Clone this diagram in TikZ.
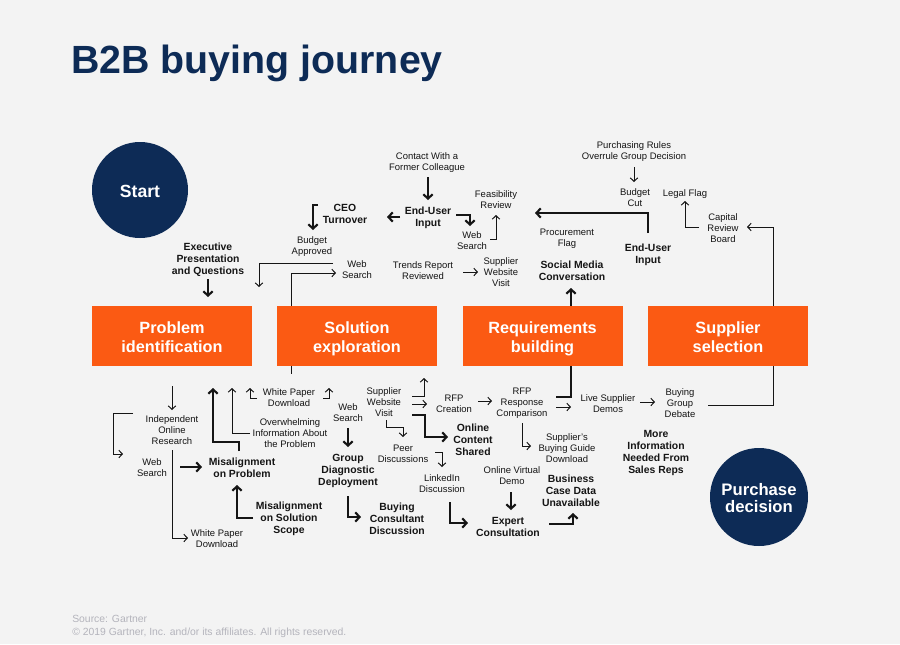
\documentclass[tikz,border=0pt]{standalone}
\usepackage{fontspec}
\setmainfont{Liberation Sans}
\usetikzlibrary{arrows.meta}
\definecolor{bgc}{HTML}{F3F3F3}
\definecolor{navy}{HTML}{0D2B56}
\definecolor{orng}{HTML}{FB5A13}
\definecolor{ink}{HTML}{151515}
\definecolor{foot}{HTML}{B4B4BC}
\begin{document}
\begin{tikzpicture}[x=0.75pt,y=-0.75pt,
 struts/.style={execute at begin node={\strut}, execute at end node={\strut}},
 sm/.style={align=center,inner sep=0pt,struts,yshift=-1.5pt,font=\fontsize{7.1}{8.3}\selectfont,text=ink},
 bd/.style={align=center,inner sep=0pt,struts,yshift=-1.9pt,font=\fontsize{7.8}{9}\selectfont\bfseries,text=ink},
 stage/.style={fill=orng,minimum width=120pt,minimum height=45pt,inner sep=0pt,align=center,text=white,font=\fontsize{12.2}{14.3}\selectfont\bfseries},
 stagetext/.style={inner sep=0pt,struts,align=center,text=white,font=\fontsize{12.2}{14.3}\selectfont\bfseries,yshift=-3pt},
 endpt/.style={circle,fill=navy,inner sep=0pt},
 endtext/.style={inner sep=0pt,struts,align=center,text=white,font=\fontsize{12.5}{13}\selectfont\bfseries,yshift=-2.6pt},
 tn/.style={draw=ink,line width=0.75pt},
 tk/.style={draw=ink,line width=1.6pt},
 tna/.style={tn,-{Straight Barb[length=2.6pt,width=5.6pt]}},
 tka/.style={tk,-{Straight Barb[length=3.2pt,width=7pt]}},
 footer/.style={anchor=base west,inner sep=0pt,text=foot,font=\fontsize{7.8}{9}\selectfont},
]
\fill[bgc] (0,0) rectangle (900,644);
\useasboundingbox (0,0) rectangle (900,644);

% title
\node[anchor=base west,inner sep=0pt,text=navy,font=\fontsize{29.5}{30}\selectfont\bfseries] (title) at (71,73) {B2B buying journey};

% start / end
\node[endpt,minimum size=72pt] (start) at (140,190) {};
\node[endtext,font=\fontsize{13.2}{14}\selectfont\bfseries] (startlbl) at (start) {Start};
\node[endpt,minimum size=73.5pt] (purchase) at (759,497) {};
\node[endtext] (purchaselbl) at (purchase) {Purchase\\decision};

% stages
\node[stage] (pi) at (172,336) {};
\node[stage] (se) at (357,336) {};
\node[stage] (rb) at (542.5,336) {};
\node[stage] (ss) at (728,336) {};
\node[stagetext] (pilbl) at (pi) {Problem\\identification};
\node[stagetext] (selbl) at (se) {Solution\\exploration};
\node[stagetext] (rblbl) at (rb) {Requirements\\building};
\node[stagetext] (sslbl) at (ss) {Supplier\\selection};

% upper labels
\node[sm] (contact) at (427,161) {Contact With a\\Former Colleague};
\node[bd] (eu1) at (428,215.5) {End-User\\Input};
\node[bd] (ceo) at (345,213) {CEO\\Turnover};
\node[sm] (budgeta) at (312,245.5) {Budget\\Approved};
\node[bd] (exec) at (208,257.5) {Executive\\Presentation\\and Questions};
\node[sm] (wsa) at (357,269) {Web\\Search};
\node[sm] (wsb) at (472,240.5) {Web\\Search};
\node[sm] (feas) at (496,199.5) {Feasibility\\Review};
\node[sm] (trends) at (423,270.5) {Trends Report\\Reviewed};
\node[sm] (swva) at (501,271.5) {Supplier\\Website\\Visit};
\node[sm] (proc) at (567,237) {Procurement\\Flag};
\node[bd] (smc) at (572,270) {Social Media\\Conversation};
\node[sm] (rules) at (634,150) {Purchasing Rules\\Overrule Group Decision};
\node[sm] (bcut) at (635,197.5) {Budget\\Cut};
\node[sm] (legal) at (685,192.5) {Legal Flag};
\node[sm] (capital) at (723,227.5) {Capital\\Review\\Board};
\node[bd] (eu2) at (648,252.5) {End-User\\Input};

% lower labels
\node[sm] (wpda) at (289,397.5) {White Paper\\Download};
\node[sm] (over) at (290,433) {Overwhelming\\Information About\\the Problem};
\node[sm] (ior) at (172,430) {Independent\\Online\\Research};
\node[sm] (wsc) at (152,467) {Web\\Search};
\node[bd] (mp) at (242,467) {Misalignment\\on Problem};
\node[sm] (wpdb) at (217,538.5) {White Paper\\Download};
\node[bd] (mss) at (289,517) {Misalignment\\on Solution\\Scope};
\node[sm] (wsd) at (348,412) {Web\\Search};
\node[bd] (gdd) at (348,469.5) {Group\\Diagnostic\\Deployment};
\node[bd] (bcons) at (397,518) {Buying\\Consultant\\Discussion};
\node[sm] (swvb) at (384,402) {Supplier\\Website\\Visit};
\node[sm] (rfpc) at (454,403) {RFP\\Creation};
\node[sm] (rfpr) at (522,401.5) {RFP\\Response\\Comparison};
\node[bd] (ocs) at (473,438.5) {Online\\Content\\Shared};
\node[sm] (peer) at (403,453) {Peer\\Discussions};
\node[sm] (li) at (442,483.5) {LinkedIn\\Discussion};
\node[sm] (ovd) at (512,475) {Online Virtual\\Demo};
\node[bd] (ec) at (508,526) {Expert\\Consultation};
\node[sm] (sbg) at (567,447.5) {Supplier's\\Buying Guide\\Download};
\node[bd] (bcdu) at (571,490) {Business\\Case Data\\Unavailable};
\node[sm] (lsd) at (608,403.5) {Live Supplier\\Demos};
\node[sm] (bgd) at (680,402.5) {Buying\\Group\\Debate};
\node[bd] (mi) at (656,451.5) {More\\Information\\Needed From\\Sales Reps};

% footer
\node[footer] (src) at (72,622) {Source: Gartner};
\node[footer] (copy) at (72,635) {\textcopyright{} 2019 Gartner, Inc. and/or its affiliates. All rights reserved.};

% upper connectors
\draw[tka] (318,205) -- (313,205) -- (313,230);
\draw[tka] (400,217) -- (387,217);
\draw[tka] (428,177) -- (428,200);
\draw[tka] (456,215) -- (470,215) -- (470,226);
\draw[tna] (490,239) -- (496,239) -- (496,215);
\draw[tna] (463,272) -- (478,272);
\draw[tka] (648,233) -- (648,213) -- (535,213);
\draw[tka] (rb.north -| 571,0) -- (571,288);
\draw[tna] (634,167) -- (634,182);
\draw[tna] (699,227) -- (685,227) -- (685,201);
\draw[tna] (ss.north -| 773,0) -- (773,227) -- (747,227);
\draw[tna] (333,263) -- (259,263) -- (259,287);
\draw[tna] (se.north -| 291,0) -- (291,273) -- (336,273);
\draw[tka] (208,279) -- (208,297);

% lower connectors
\draw[tn] (se.south -| 291,0) -- (291,374);
\draw[tna] (257,398) -- (250,398) -- (250,388);
\draw[tna] (323,398) -- (329,398) -- (329,388);
\draw[tna] (250,433) -- (232,433) -- (232,388);
\draw[tka] (239,451) -- (239,442) -- (213,442) -- (213,388);
\draw[tna] (172,386) -- (172,410);
\draw[tna] (133,413) -- (113,413) -- (113,454) -- (123,454);
\draw[tka] (180,467) -- (202,467);
\draw[tna] (172,450) -- (172,538) -- (188,538);
\draw[tka] (253,518) -- (237,518) -- (237,485);
\draw[tna] (412,396) -- (424,396) -- (424,378);
\draw[tna] (412,404) -- (427,404);
\draw[tka] (412,415) -- (425,415) -- (425,437) -- (448,437);
\draw[tna] (386,420) -- (386,427) -- (403,427) -- (403,437);
\draw[tka] (348,428) -- (348,447);
\draw[tka] (348,496) -- (348,517) -- (361,517);
\draw[tna] (478,401) -- (492,401);
\draw[tk] (rb.south -| 571,0) -- (571,397) -- (556,397);
\draw[tna] (556,407) -- (571,407);
\draw[tna] (640,402) -- (655,402);
\draw[tn] (ss.south -| 773,0) -- (773,405) -- (708,405);
\draw[tna] (435,452) -- (442,452) -- (442,467);
\draw[tka] (450,502) -- (450,523) -- (468,523);
\draw[tka] (511,492) -- (511,510);
\draw[tna] (522,423) -- (522,446) -- (531,446);
\draw[tka] (549,524) -- (573,524) -- (573,513);
\end{tikzpicture}
\end{document}
